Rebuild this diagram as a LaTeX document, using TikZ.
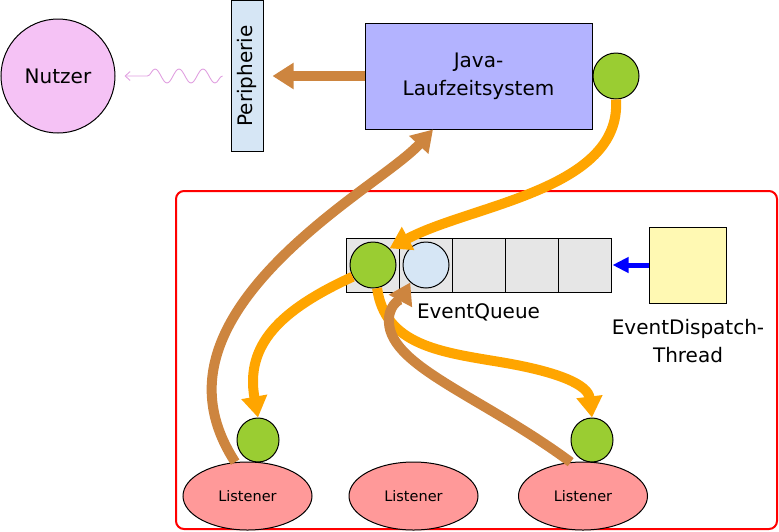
\documentclass[tikz,border=0pt]{standalone}
\usepackage{fontspec}
\setmainfont{DejaVu Sans}
\usetikzlibrary{arrows.meta,decorations.pathmorphing,shapes.geometric}
\definecolor{nutzerpink}{HTML}{F5C2F5}
\definecolor{perblue}{HTML}{D6E6F5}
\definecolor{javablue}{HTML}{B3B3FF}
\definecolor{ballgreen}{HTML}{9ACD32}
\definecolor{qgray}{HTML}{E6E6E6}
\definecolor{edtyellow}{HTML}{FFF9B3}
\definecolor{lpink}{HTML}{FF9999}
\definecolor{brownc}{HTML}{CD853F}
\definecolor{orangec}{HTML}{FFA500}
\definecolor{snakepink}{HTML}{E0A0E0}
\begin{document}
\begin{tikzpicture}[x=1pt,y=-1pt,
  every node/.style={font=\fontsize{20}{28}\selectfont, line width=1pt},
  ball/.style={circle, draw, fill=ballgreen, minimum size=46pt, inner sep=0pt},
  cell/.style={rectangle, draw, fill=qgray, minimum width=53pt, minimum height=54pt, inner sep=0pt},
  listener/.style={ellipse, draw, fill=lpink, minimum width=129pt, minimum height=68pt, inner sep=0pt, font=\fontsize{14.5}{16}\selectfont},
  smallball/.style={ellipse, draw, fill=ballgreen, minimum width=42pt, minimum height=44pt, inner sep=0pt},
  brownarr/.style={draw=brownc, line width=10pt, -{Triangle[width=25pt,length=21pt]}},
  orangearr/.style={draw=orangec, line width=10pt, -{Triangle[width=25pt,length=21pt]}},
]
\useasboundingbox (0,0) rectangle (779,531);

% container
\draw[red, line width=2pt, rounded corners=8pt] (176,191) rectangle (777,529);

% top row
\node[circle, draw, fill=nutzerpink, minimum size=114pt, inner sep=0pt] (nutzer) at (58,76) {Nutzer};
\node[rectangle, draw, fill=perblue, rotate=90, minimum width=151pt, minimum height=32pt, inner sep=0pt] (peri) at (247,76) {Peripherie};
\node[rectangle, draw, fill=javablue, minimum width=227pt, minimum height=106pt, align=center] (java) at (478.5,76) {Java-\\Laufzeitsystem};
\node[ball] (gj) at (616,76) {};

% queue
\node[cell] (c1) at (372.5,265) {};
\node[cell] (c2) at (425.5,265) {};
\node[cell] (c3) at (478.5,265) {};
\node[cell] (c4) at (531.5,265) {};
\node[cell] (c5) at (584.5,265) {};
\node[ball] (q1) at (373,265) {};
\node[ball, fill=perblue] (q2) at (426,265) {};
\node[anchor=base] (eqlabel) at (478.5,318) {EventQueue};

% dispatch thread
\node[rectangle, draw, fill=edtyellow, minimum width=77pt, minimum height=76pt, inner sep=0pt] (edt) at (687.5,265) {};
\node[align=center] (edtlabel) at (688,341) {EventDispatch-\\Thread};

% listeners
\node[listener] (l1) at (247.5,496) {Listener};
\node[listener] (l2) at (413.5,496) {Listener};
\node[listener] (l3) at (583,496) {Listener};
\node[smallball] (b1) at (258,440) {};
\node[smallball] (b3) at (592,440) {};

% connectors
\draw[snakepink, line width=0.9pt, decorate,
      decoration={snake, amplitude=7pt, segment length=24pt, post length=15pt},
      -{Straight Barb[length=5pt,width=9pt]}]
  ([xshift=-8pt]peri.north) -- ([xshift=9pt]nutzer.east);
\draw[brownarr, shorten >=9pt] (java.west) -- (peri);
\draw[blue, line width=5pt, -{Triangle[width=15pt,length=16pt]}, shorten >=1pt] (edt.west) -- (c5.east);

\draw[orangearr] (gj.south) .. controls (622,190) and (470,205) .. (q1.45);
\draw[orangearr] (q1.210) .. controls (280,310) and (245,345) .. (b1.north);
\draw[orangearr] (q1.280) .. controls (385,345) and (440,352) .. (500,362)
   .. controls (560,372) and (588,385) .. (b3.north);

\draw[brownarr] (l1.110) .. controls (195,400) and (200,330) .. (300,240)
   .. controls (350,195) and (400,165) .. (java.south -| 433,0);
\draw[brownarr] (l3.110) .. controls (480,395) and (385,365) .. (389,318)
   .. controls (390,303) and (402,298) .. (q2.228);
\end{tikzpicture}
\end{document}
